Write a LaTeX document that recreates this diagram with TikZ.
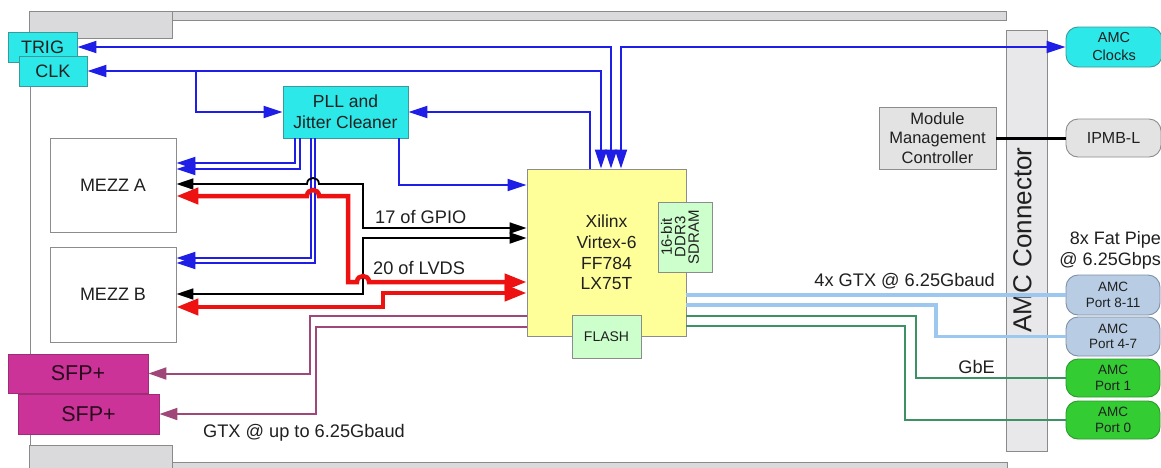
\documentclass[tikz,border=0pt]{standalone}
\usepackage{fontspec}
\setmainfont{Liberation Sans}
\usetikzlibrary{arrows.meta}
\definecolor{cyanf}{HTML}{2CE8E8}
\definecolor{cyanb}{HTML}{3A9A9A}
\definecolor{yelf}{HTML}{FFFF99}
\definecolor{grnf}{HTML}{CCFFCC}
\definecolor{boxb}{HTML}{8C8C8C}
\definecolor{sfpf}{HTML}{CC3399}
\definecolor{sfpb}{HTML}{A02C78}
\definecolor{sfpt}{HTML}{2A0A1E}
\definecolor{portbf}{HTML}{B8CCE4}
\definecolor{portbb}{HTML}{7F8FA6}
\definecolor{portgf}{HTML}{33CC33}
\definecolor{portgb}{HTML}{2A9A2A}
\definecolor{mmcf}{HTML}{E3E3E3}
\definecolor{brdf}{HTML}{DADADC}
\definecolor{brdb}{HTML}{8A8A8A}
\definecolor{barf}{HTML}{E8E8EA}
\definecolor{bluel}{HTML}{1E1EE6}
\definecolor{redl}{HTML}{EE1111}
\definecolor{purl}{HTML}{9E4778}
\definecolor{lbl}{HTML}{9CC8F0}
\definecolor{grl}{HTML}{3D9162}
\definecolor{txt}{HTML}{202020}
\newcommand\myfs[2]{\fontsize{#1}{#2}\selectfont}
\begin{document}
\begin{tikzpicture}[x=1pt,y=-1pt,
  box/.style={draw=boxb, line width=0.9pt, inner sep=0pt, align=center, text=txt},
  cyanbox/.style={box, fill=cyanf, draw=cyanb},
  whitebox/.style={box, fill=white},
  fpgabox/.style={box, fill=yelf},
  greenbox/.style={box, fill=grnf},
  sfpbox/.style={box, fill=sfpf, draw=sfpb, text=sfpt, font=\myfs{21.5}{24}},
  graybox/.style={box, fill=mmcf},
  cyanround/.style={box, fill=cyanf, draw=cyanb, rounded corners=12pt},
  grayround/.style={box, fill=mmcf, rounded corners=12pt},
  portblue/.style={box, fill=portbf, draw=portbb, rounded corners=12pt, font=\myfs{13.5}{15.5}, minimum width=94},
  portgreen/.style={box, fill=portgf, draw=portgb, rounded corners=12pt, font=\myfs{13.5}{15.5}, minimum width=94},
  lab/.style={inner sep=0pt, text=txt, font=\myfs{18.2}{20}},
  bline/.style={draw=bluel, line width=2pt},
  kline/.style={draw=black, line width=1.8pt},
  rline/.style={draw=redl, line width=4.5pt},
  pline/.style={draw=purl, line width=2pt},
  lbline/.style={draw=lbl, line width=3.5pt},
  gline/.style={draw=grl, line width=2.5pt},
  tipB/.tip={Triangle[length=19pt,width=12pt]},
  tipK/.tip={Triangle[length=17pt,width=11pt]},
  tipR/.tip={Triangle[length=22pt,width=16pt]},
  tipP/.tip={Triangle[length=18pt,width=12pt]}
]
\useasboundingbox (0,0) rectangle (1161,467);
\fill[white] (0,0) rectangle (1161,467);
% board
\draw[fill=brdf, draw=brdb, line width=0.9pt] (172,11) rectangle (1006,20);
\draw[fill=brdf, draw=brdb, line width=0.9pt] (29,11) rectangle (172,38);
\draw[draw=brdb, line width=0.9pt] (30,38) -- (30,445);
\draw[fill=brdf, draw=brdb, line width=0.9pt] (172,462) rectangle (1007,472);
\draw[fill=brdf, draw=brdb, line width=0.9pt] (29,445) rectangle (172,472);
\draw[fill=barf, draw=brdb, line width=0.9pt] (1006,30) rectangle (1047,451);
\node[rotate=90, inner sep=0pt, text=txt, font=\myfs{26}{28}] (amcconn) at (1022.5,240) {AMC Connector};

% nodes
\node[cyanbox, minimum width=69, minimum height=30, font=\myfs{18}{20}] (trig) at (42.5,47) {TRIG};
\node[cyanbox, minimum width=68, minimum height=30, font=\myfs{18}{20}] (clk) at (53,71) {CLK};
\node[cyanbox, minimum width=125, minimum height=52, font=\myfs{17.5}{21}] (pll) at (345.5,112) {PLL and\\Jitter Cleaner};
\node[whitebox, minimum width=126, minimum height=94, font=\myfs{18}{20}] (mezzA) at (113,185) {MEZZ A};
\node[whitebox, minimum width=126, minimum height=95, font=\myfs{18}{20}] (mezzB) at (113,294.5) {MEZZ B};
\node[fpgabox, minimum width=159, minimum height=167, font=\myfs{17.5}{20.7}] (fpga) at (606.5,252.5) {Xilinx\\Virtex-6\\FF784\\LX75T};
\node[greenbox, rotate=90, minimum width=70, minimum height=54, text depth=10pt, font=\myfs{15}{13.5}] (ddr) at (685,237) {16-bit\\DDR3\\SDRAM};
\node[greenbox, minimum width=69, minimum height=43, font=\myfs{14}{16}] (flash) at (606.5,336.5) {FLASH};
\node[sfpbox, minimum width=140, minimum height=39] (sfpA) at (78,373.5) {SFP+};
\node[sfpbox, minimum width=141, minimum height=40] (sfpB) at (88.5,414) {SFP+};
\node[graybox, minimum width=117, minimum height=62, font=\myfs{16.5}{19.5}] (mmc) at (937.5,138) {Module\\Management\\Controller};
\node[cyanround, minimum width=96, minimum height=40, font=\myfs{14.5}{18}] (amcclk) at (1114,47) {AMC\\Clocks};
\node[grayround, minimum width=95, minimum height=38, font=\myfs{16}{18}] (ipmb) at (1113.5,138) {IPMB-L};
\node[portblue, minimum height=40] (p811) at (1113,295) {AMC\\Port 8-11};
\node[portblue, minimum height=39] (p47) at (1113,336.5) {AMC\\Port 4-7};
\node[portgreen, minimum height=38] (p1) at (1113,378) {AMC\\Port 1};
\node[portgreen, minimum height=38] (p0) at (1113,420) {AMC\\Port 0};

% labels
\node[lab, anchor=base west] (lgpio) at (375,223) {17 of GPIO};
\node[lab, anchor=base west] (llvds) at (373,274) {20 of LVDS};
\node[lab, anchor=base east] (lgtx4) at (995,286) {4x GTX @ 6.25Gbaud};
\node[lab, anchor=base east] (lgbe) at (995,373) {GbE};
\node[lab, anchor=base west] (lgtx) at (203,437) {GTX @ up to 6.25Gbaud};
\node[lab, anchor=east, align=right, font=\myfs{18}{21}] (lfat) at (1161,250) {8x Fat Pipe\\@ 6.25Gbps};

% blue clock lines
\draw[bline, tipB-tipB] (trig.east) -| ([xshift=4.5pt]fpga.north);
\draw[bline, tipB-tipB] (clk.east) -| ([xshift=-5.5pt]fpga.north);
\draw[bline, tipB-tipB] (amcclk.west) -| ([xshift=14.5pt]fpga.north);
\coordinate (clkbr) at (196,71);
\draw[bline, -tipB] (clkbr) |- (pll.west);
\draw[bline, -tipB] ([xshift=-16.5pt]fpga.north) |- (pll.east);
\draw[bline, -tipB] (pll.south -| 399,0) |- (fpga.west |- 0,185);
\draw[bline, -tipB] (pll.south -| 295,0) |- (mezzA.east |- 0,163);
\draw[bline, -tipB] (pll.south -| 300,0) |- (mezzA.east |- 0,169);
\draw[bline, -tipB] (pll.south -| 311,0) |- (mezzB.east |- 0,258);
\draw[bline, -tipB] (pll.south -| 315,0) |- (mezzB.east |- 0,263);

% black GPIO lines
\draw[kline, tipK-tipK] (mezzA.east |- 0,184) -- (307,184) .. controls (307,176) and (319,176) .. (319,184) -- (363,184) |- (fpga.west |- 0,228);
\draw[kline, tipK-tipK] (mezzB.east |- 0,294) -| (363,238) -- (fpga.west |- 0,238);

% red LVDS lines
\draw[rline, tipR-tipR] (mezzA.east |- 0,196) -- (307,196) .. controls (307,188) and (319,188) .. (319,196) -- (348,196) -- (348,282) -- (357,282) .. controls (357,274) and (369,274) .. (369,282) -- (fpga.west |- 0,282);
\draw[rline, tipR-tipR] (mezzB.east |- 0,307) -- (383,307) -- (383,293) -- (fpga.west |- 0,293);

% SFP lines
\draw[pline, -tipP] (fpga.west |- 0,316) -| (sfpA.east -| 310,0) -- (sfpA.east);
\draw[pline, -tipP] (fpga.west |- 0,327) -| (sfpB.east -| 316,0) -- (sfpB.east);

% right side lines
\draw[lbline] (fpga.east |- 0,295) -- (p811.west);
\draw[lbline] (fpga.east |- 0,305) -- (936,305) |- (p47.west);
\draw[gline] (fpga.east |- 0,316) -- (916,316) |- (p1.west);
\draw[gline] (fpga.east |- 0,326) -- (905,326) |- (p0.west);
\draw[line width=3pt] (mmc.east) -- (ipmb.west);
\end{tikzpicture}
\end{document}
